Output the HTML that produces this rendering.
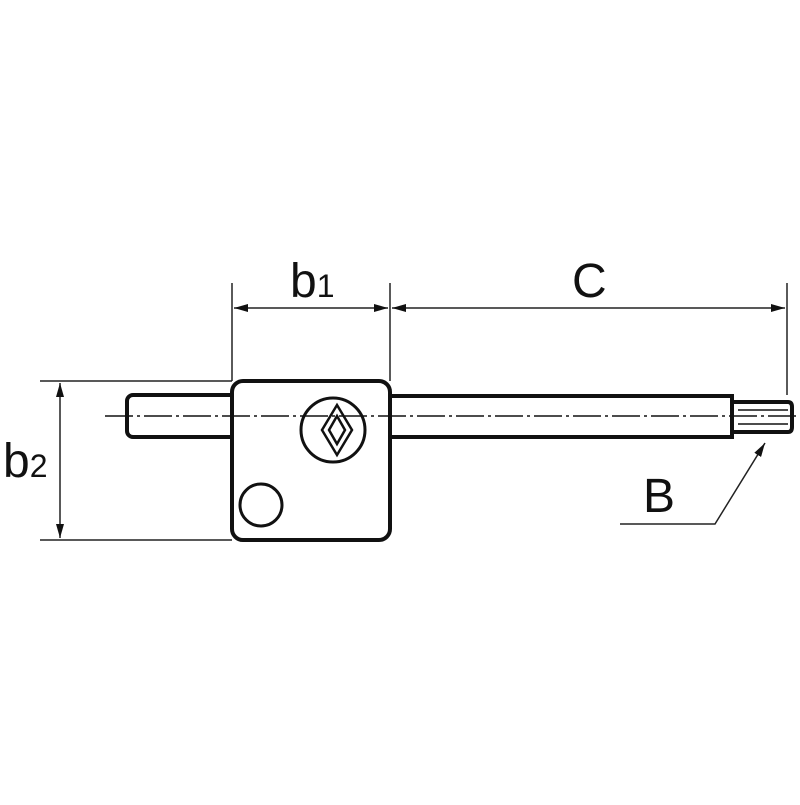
<!DOCTYPE html>
<html><head><meta charset="utf-8"><style>body{margin:0;background:#fff}</style></head><body>
<svg width="800" height="800" viewBox="0 0 800 800" xmlns="http://www.w3.org/2000/svg" font-family="Liberation Sans, sans-serif">
<defs><marker id="a" markerWidth="14" markerHeight="8" refX="14" refY="4" orient="auto-start-reverse" markerUnits="userSpaceOnUse"><path d="M0,0 L14,4 L0,8 Z" fill="#111"/></marker></defs>
<g stroke="#222" stroke-width="1.5" fill="none">
<line x1="232" y1="283" x2="232" y2="381"/>
<line x1="390" y1="283" x2="390" y2="381"/>
<line x1="787" y1="283" x2="787" y2="395"/>
<line x1="40" y1="381" x2="232" y2="381"/>
<line x1="40" y1="540" x2="232" y2="540"/>
<line x1="234" y1="308" x2="388" y2="308" marker-start="url(#a)" marker-end="url(#a)"/>
<line x1="392" y1="308" x2="785" y2="308" marker-start="url(#a)" marker-end="url(#a)"/>
<line x1="60" y1="383" x2="60" y2="538" marker-start="url(#a)" marker-end="url(#a)"/>
<polyline points="620,524 715,524 765,443" marker-end="url(#a)"/>
</g>
<g stroke="#111" stroke-width="4" fill="#fff">
<rect x="127" y="395" width="110" height="42" rx="6"/>
<rect x="385" y="396" width="347" height="41"/>
<path d="M732,402 L788,402 Q792,402 792,407 L792,427 Q792,432 788,432 L732,432 Z"/>
<rect x="232" y="381" width="158" height="159" rx="11"/>
<circle cx="333" cy="430" r="32" stroke-width="3"/>
<circle cx="261" cy="505" r="21" stroke-width="3"/>
</g>
<line x1="738" y1="410" x2="788" y2="410" stroke="#111" stroke-width="1.5"/>
<line x1="738" y1="424" x2="788" y2="424" stroke="#111" stroke-width="1.5"/>
<line x1="105" y1="416" x2="800" y2="416" stroke="#111" stroke-width="1.5" stroke-dasharray="28,4,3,4"/>
<g stroke="#111" stroke-width="2.5" fill="none">
<path d="M337,405 L352,430 L337,455 L322,430 Z"/>
<path d="M337,416 L345,430 L337,444 L329,430 Z"/>
</g>
<g font-size="48" fill="#111">
<text x="290" y="297">b<tspan font-size="32">1</tspan></text>
<text x="572" y="297">C</text>
<text x="3" y="477">b<tspan font-size="32">2</tspan></text>
<text x="643" y="512">B</text>
</g>
</svg>
</body></html>
